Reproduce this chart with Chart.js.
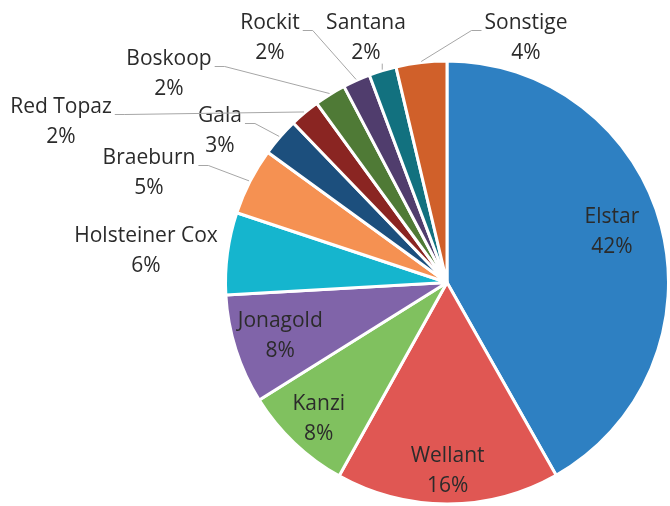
<!DOCTYPE html>
<html>
<head>
<meta charset="utf-8">
<script src="https://cdn.jsdelivr.net/npm/chart.js@4.4.0/dist/chart.umd.min.js"></script>
<style>
  html, body { margin: 0; padding: 0; background: #fff; overflow: hidden; }
  #wrap { width: 670px; height: 506px; }
</style>
</head>
<body>
<div id="wrap"><canvas id="pie" width="670" height="506"></canvas></div>
<script>
// apple varieties and their share (percent)
const varieties = ['Elstar', 'Wellant', 'Kanzi', 'Jonagold', 'Holsteiner Cox', 'Braeburn', 'Gala', 'Red Topaz', 'Boskoop', 'Rockit', 'Santana', 'Sonstige'];
const shares = [41.8, 16.3, 8.0, 8.0, 6.0, 4.9, 2.8, 2.2, 2.3, 2.0, 2.0, 3.7];
const sliceColors = ['#2e80c2', '#e05753', '#80c15f', '#8064a9', '#15b5ce', '#f59152', '#1c4f7d', '#8a2522', '#4f7a36', '#503d6d', '#12717f', '#d0602a'];

// where each label goes: inside the slice (fraction of radius, small vertical nudge)
// or outside, offset from the pie centre, with a leader line leaving from one side
const labelPlacement = [
  { inside: 0.77, nudge: -7 },
  { inside: 0.85, nudge: 0 },
  { inside: 0.84, nudge: 2 },
  { inside: 0.79, nudge: 0 },
  { dx: -301, dy: -46, line: 'none' },
  { dx: -298, dy: -124, line: 'right' },
  { dx: -227, dy: -166, line: 'right' },
  { dx: -386, dy: -175, line: 'right' },
  { dx: -278, dy: -223, line: 'right' },
  { dx: -177, dy: -259, line: 'right' },
  { dx: -81, dy: -259, line: 'below' },
  { dx: 79, dy: -259, line: 'left' }
];

const total = shares.reduce((a, b) => a + b, 0);
const pctLabels = shares.map(v => Math.round(v / total * 100) + '%');

const sliceLabels = {
  id: 'sliceLabels',
  afterDatasetsDraw(chart) {
    const ctx = chart.ctx;
    const arcs = chart.getDatasetMeta(0).data;
    ctx.save();
    ctx.font = '21px "Open Sans"';
    ctx.fillStyle = '#2b2b2b';
    ctx.textAlign = 'center';
    ctx.textBaseline = 'middle';
    arcs.forEach((arc, i) => {
      const p = labelPlacement[i];
      const mid = (arc.startAngle + arc.endAngle) / 2;
      let tx, ty;
      if (p.inside) {
        tx = arc.x + Math.cos(mid) * arc.outerRadius * p.inside;
        ty = arc.y + Math.sin(mid) * arc.outerRadius * p.inside - 15 + p.nudge;
      } else {
        tx = arc.x + p.dx;
        ty = arc.y + p.dy;
        const ex = arc.x + Math.cos(mid) * (arc.outerRadius + 1);
        const ey = arc.y + Math.sin(mid) * (arc.outerRadius + 1);
        const tw = ctx.measureText(varieties[i]).width;
        ctx.strokeStyle = '#a6a6a6';
        ctx.lineWidth = 1;
        ctx.beginPath();
        if (p.line === 'right') {
          const sx = tx + tw / 2 + 3, sy = ty + 7;
          ctx.moveTo(sx, sy);
          ctx.lineTo(sx + 10, sy);
          ctx.lineTo(ex, ey);
        } else if (p.line === 'left') {
          const sx = tx - tw / 2 - 3, sy = ty + 7;
          ctx.moveTo(sx, sy);
          ctx.lineTo(sx - 10, sy);
          ctx.lineTo(ex, ey);
        } else if (p.line === 'below') {
          ctx.moveTo(ex, ey - 6);
          ctx.lineTo(ex, ey);
        }
        ctx.stroke();
      }
      ctx.fillText(varieties[i], tx, ty);
      ctx.fillText(pctLabels[i], tx, ty + 30);
    });
    ctx.restore();
  }
};

new Chart(document.getElementById('pie'), {
  type: 'pie',
  data: {
    labels: varieties,
    datasets: [{
      data: shares,
      backgroundColor: sliceColors,
      borderColor: '#ffffff',
      borderWidth: 3
    }]
  },
  options: {
    responsive: false,
    animation: false,
    layout: { padding: { left: 224, top: 59, right: 0, bottom: 0 } },
    plugins: {
      legend: { display: false },
      tooltip: { enabled: false }
    }
  },
  plugins: [sliceLabels]
});
</script>
</body>
</html>
